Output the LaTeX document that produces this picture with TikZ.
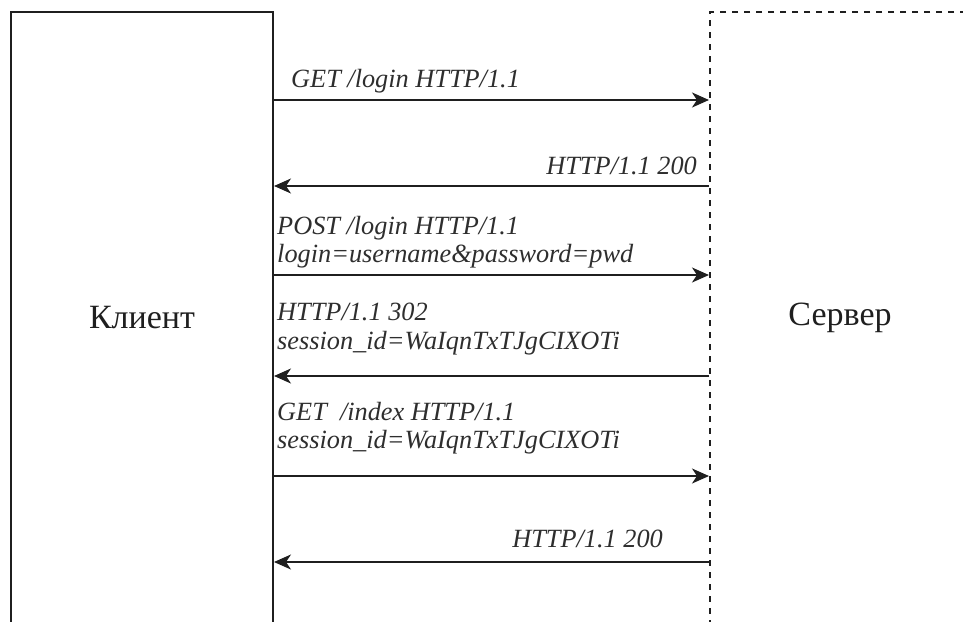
\documentclass[tikz,border=0pt]{standalone}
\usepackage{fontspec}
\setmainfont{Liberation Serif}
\usetikzlibrary{arrows.meta}
\begin{document}
\begin{tikzpicture}[x=1pt,y=-1pt,
  party/.style={draw=black!88, line width=2pt, minimum width=262pt, minimum height=612pt,
    inner sep=0pt, font=\fontsize{34}{40}\selectfont, text=black!88},
  serverbox/.style={party, dash pattern=on 6pt off 6pt, minimum width=260pt},
  msg/.style={draw=black!88, line width=2pt, -{Stealth[length=17pt,width=15pt,inset=5pt]}},
  lbl/.style={font=\fontsize{26.3}{29}\selectfont\itshape, inner sep=0pt, text=black!82}]
\useasboundingbox (0,0) rectangle (963,621);
\begin{scope}
\clip (0,0) rectangle (963,621);
\node[party] (client) at (142,318) {Клиент};
\node[serverbox] (server) at (840,318) {Сервер};
\end{scope}
% message heights
\coordinate (y1) at (0,100);
\coordinate (y2) at (0,186);
\coordinate (y3) at (0,275);
\coordinate (y4) at (0,376);
\coordinate (y5) at (0,476);
\coordinate (y6) at (0,562);
\draw[msg] (client.east |- y1) -- (server.west |- y1);
\draw[msg] (server.west |- y2) -- (client.east |- y2);
\draw[msg] (client.east |- y3) -- (server.west |- y3);
\draw[msg] (server.west |- y4) -- (client.east |- y4);
\draw[msg] (client.east |- y5) -- (server.west |- y5);
\draw[msg] (server.west |- y6) -- (client.east |- y6);
% labels
\node[lbl, anchor=base west] (l1) at (291,87) {GET /login HTTP/1.1};
\node[lbl, anchor=base east] (l2) at (697,174) {HTTP/1.1 200};
\node[lbl, anchor=base west] (l3a) at (277,234) {POST /login HTTP/1.1};
\node[lbl, anchor=base west] (l3b) at (277,262) {login=username\&password=pwd};
\node[lbl, anchor=base west] (l4a) at (277,320) {HTTP/1.1 302};
\node[lbl, anchor=base west] (l4b) at (277,349) {session\_id=WaIqnTxTJgCIXOTi};
\node[lbl, anchor=base west] (l5a) at (277,420) {GET\ \ /index HTTP/1.1};
\node[lbl, anchor=base west] (l5b) at (277,448) {session\_id=WaIqnTxTJgCIXOTi};
\node[lbl, anchor=base east] (l6) at (663,547) {HTTP/1.1 200};
\end{tikzpicture}
\end{document}
